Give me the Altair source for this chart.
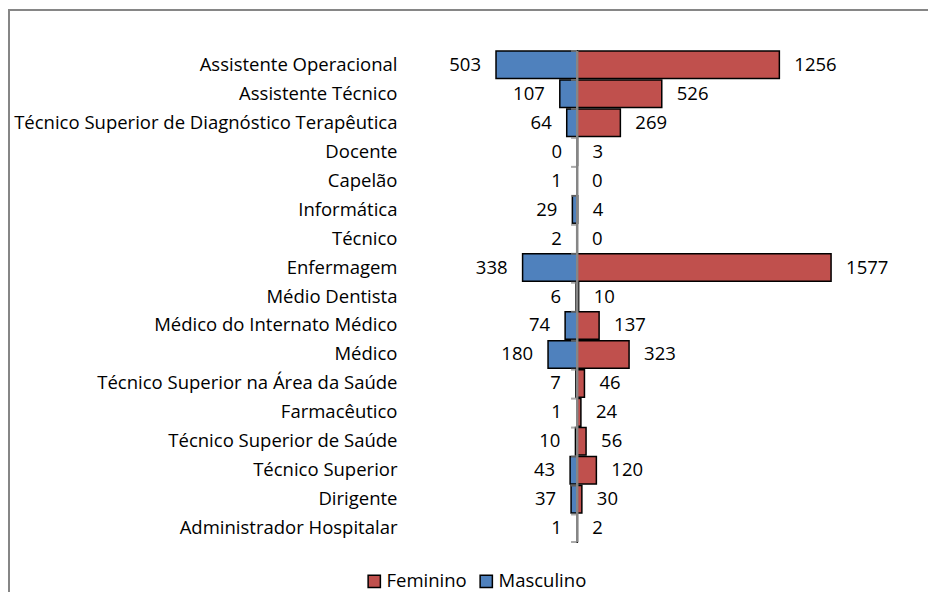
import altair as alt
import pandas as pd

categories = [
    "Assistente Operacional", "Assistente Técnico",
    "Técnico Superior de Diagnóstico Terapêutica", "Docente", "Capelão",
    "Informática", "Técnico", "Enfermagem", "Médio Dentista",
    "Médico do Internato Médico", "Médico", "Técnico Superior na Área da Saúde",
    "Farmacêutico", "Técnico Superior de Saúde", "Técnico Superior",
    "Dirigente", "Administrador Hospitalar",
]
feminino = [1256, 526, 269, 3, 0, 4, 0, 1577, 10, 137, 323, 46, 24, 56, 120, 30, 2]
masculino = [503, 107, 64, 0, 1, 29, 2, 338, 6, 74, 180, 7, 1, 10, 43, 37, 1]

rows = []
for c, f, m in zip(categories, feminino, masculino):
    rows.append({"cat": c, "sexo": "Feminino", "val": f, "signed": f})
    rows.append({"cat": c, "sexo": "Masculino", "val": m, "signed": -m})
df = pd.DataFrame(rows)
cats_df = pd.DataFrame({"cat": categories})
last_df = pd.DataFrame({"cat": categories[-1:]})

FONT = "Open Sans"
FS = 18.5
GRAY = "#868686"

yenc = alt.Y("cat:N", sort=categories, title=None,
             scale=alt.Scale(paddingInner=0.05, paddingOuter=0),
             axis=alt.Axis(domain=False, ticks=False, labelPadding=8,
                           labelFont=FONT, labelFontSize=FS, labelColor="black",
                           labelLimit=500))
xscale = alt.Scale(domain=[-1068, 2067], nice=False, zero=False)

bars = alt.Chart(df).mark_bar(stroke="black", strokeWidth=1.5).encode(
    x=alt.X("signed:Q", scale=xscale, axis=None, stack=None),
    y=yenc,
    color=alt.Color("sexo:N", sort=["Feminino", "Masculino"],
                    scale=alt.Scale(domain=["Feminino", "Masculino"],
                                    range=["#C0504D", "#4F81BD"]),
                    legend=alt.Legend(title=None, orient="none", direction="horizontal",
                                      legendX=-40, legendY=521,
                                      symbolType="square", symbolSize=150,
                                      symbolStrokeColor="black", symbolStrokeWidth=1.5,
                                      labelFont=FONT, labelFontSize=FS, labelColor="black",
                                      columnPadding=10, labelOffset=3)),
)

fem_text = alt.Chart(df[df.sexo == "Feminino"]).mark_text(
    align="left", baseline="middle", dx=15, font=FONT, fontSize=FS, color="black"
).encode(x=alt.X("signed:Q", scale=xscale), y=alt.Y("cat:N", sort=categories), text="val:Q")

mas_text = alt.Chart(df[df.sexo == "Masculino"]).mark_text(
    align="right", baseline="middle", dx=-15, font=FONT, fontSize=FS, color="black"
).encode(x=alt.X("signed:Q", scale=xscale), y=alt.Y("cat:N", sort=categories), text="val:Q")

axis_line = alt.Chart(cats_df).mark_rule(color=GRAY, strokeWidth=2).encode(
    x=alt.datum(0, scale=xscale)
)

ticks_top = alt.Chart(cats_df).mark_tick(color=GRAY, thickness=2, size=6, orient="horizontal",
                                         xOffset=-3).encode(
    x=alt.datum(0, scale=xscale),
    y=alt.Y("cat:N", sort=categories, bandPosition=0),
)
ticks_bottom = alt.Chart(last_df).mark_tick(color=GRAY, thickness=2, size=6, orient="horizontal",
                                            xOffset=-3).encode(
    x=alt.datum(0, scale=xscale),
    y=alt.Y("cat:N", sort=categories, bandPosition=1),
)

frame_top = alt.Chart(last_df).mark_rule(color=GRAY, strokeWidth=2).encode(
    x=alt.value(-397), x2=alt.value(523), y=alt.value(-41)
)
frame_left = alt.Chart(last_df).mark_rule(color=GRAY, strokeWidth=2).encode(
    x=alt.value(-396), y=alt.value(-42), y2=alt.value(545)
)

chart = alt.layer(
    bars, axis_line, ticks_top, ticks_bottom, fem_text, mas_text, frame_top, frame_left
).properties(
    width=505, height=491,
    padding={"left": 397, "top": 43, "right": 18, "bottom": 50},
    autosize=alt.AutoSizeParams(type="none"),
).configure(background="white").configure_view(strokeWidth=0, stroke=None)

chart.save("out.html", embed_options={"renderer": "svg", "actions": False})
